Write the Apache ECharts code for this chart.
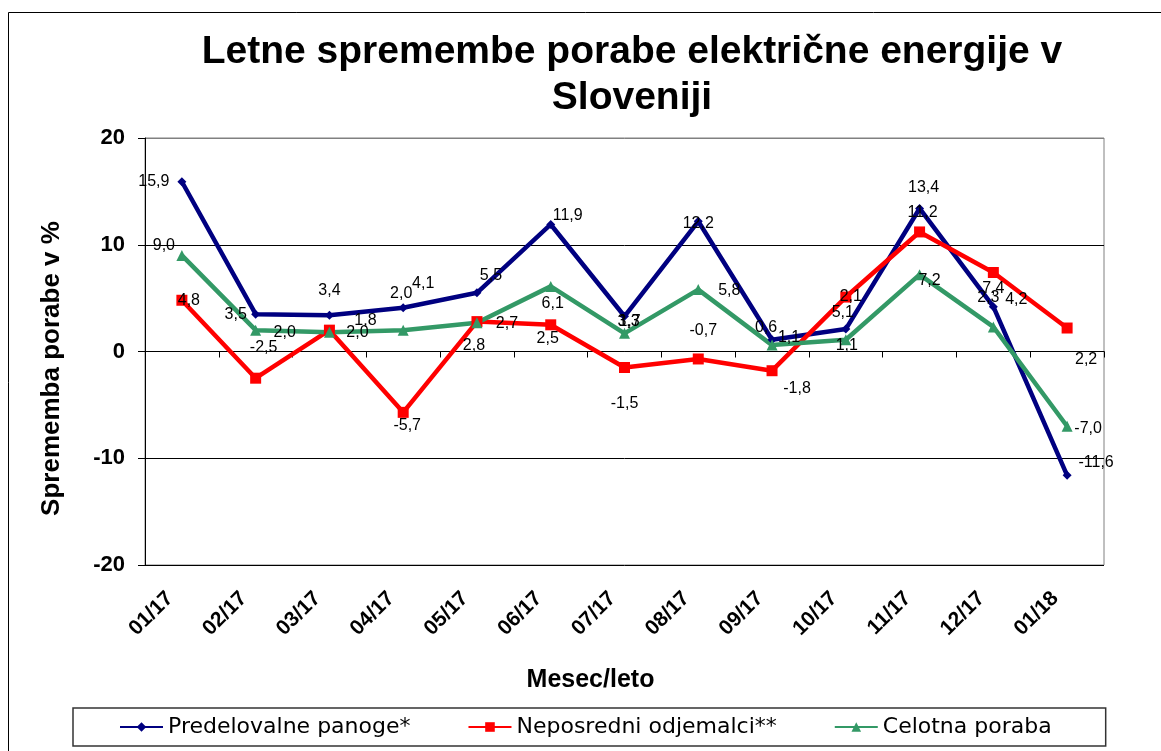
<!DOCTYPE html>
<html><head><meta charset="utf-8">
<script src="https://cdn.jsdelivr.net/npm/echarts@6/dist/echarts.min.js"></script>
<style>html,body{margin:0;padding:0;background:#fff}#c{width:1161px;height:751px}</style>
</head><body><div id="c"></div>
<script>
// ---- data ----
const categories = ['01/17','02/17','03/17','04/17','05/17','06/17','07/17','08/17','09/17','10/17','11/17','12/17','01/18'];
const predelovalne = [15.9, 3.5, 3.4, 4.1, 5.5, 11.9, 3.3, 12.2, 1.1, 2.1, 13.4, 4.2, -11.6];
const neposredni   = [4.8, -2.5, 2.0, -5.7, 2.8, 2.5, -1.5, -0.7, -1.8, 5.1, 11.2, 7.4, 2.2];
const celotna      = [9.0, 2.0, 1.8, 2.0, 2.7, 6.1, 1.7, 5.8, 0.6, 1.1, 7.2, 2.3, -7.0];
const seriesNames  = ['Predelovalne panoge*', 'Neposredni odjemalci**', 'Celotna poraba'];
const titleLines   = ['Letne spremembe porabe električne energije v', 'Sloveniji'];

// ---- label placement (layout only) ----
const blueOff  = [[-28,0],[-20,0],[0,-25],[20,-24],[14,-17],[17,-9],[4,5],[0,2],[17,-2],[5,-32],[4,-21],[23,-7],[29,-13]];
const redOff   = [[7,0],[8,-31],[28,2],[4,13],[-3,24],[-3,14],[0,36],[5,-28],[25,18],[-3,16],[3,-19],[0,16],[19,32]];
const greenOff = [[-18,-10],[29,2],[36,-12],[-2,-37],[30,1],[2,17],[5,-12],[31,1],[-6,-18],[1,6],[10,6],[-5,-29],[21,2]];

const fmt = v => v.toFixed(1).replace('.', ',');
const withLabels = (vals, offs) => vals.map((v, i) => ({ value: v, label: { offset: offs[i] } }));
const labelBase = { show: true, position: 'inside', fontSize: 16, color: '#000',
  fontFamily: 'Liberation Sans, Arial, sans-serif', formatter: p => fmt(p.value) };

const chart = echarts.init(document.getElementById('c'), null, { renderer: 'canvas' });
chart.setOption({
  animation: false,
  backgroundColor: '#fff',
  graphic: [
    { type: 'rect', z: -1, shape: { x: 8.5, y: 12.5, width: 1200, height: 800 },
      style: { fill: 'none', stroke: '#000', lineWidth: 1 } },
    { type: 'text', x: 632, y: 52, style: { text: titleLines[0], textAlign: 'center', textVerticalAlign: 'middle',
      font: 'bold 39px "Liberation Sans", Arial, sans-serif', fill: '#000' } },
    { type: 'text', x: 632, y: 98, style: { text: titleLines[1], textAlign: 'center', textVerticalAlign: 'middle',
      font: 'bold 39px "Liberation Sans", Arial, sans-serif', fill: '#000' } }
  ],
  grid: { left: 145, right: 57, top: 138, bottom: 186, show: true, borderColor: '#808080', borderWidth: 1,
    outerBoundsMode: 'none' },
  legend: {
    left: 73, top: 708, itemWidth: 43, itemHeight: 12, itemGap: 57,
    padding: [8, 54, 8, 46], borderColor: '#333', borderWidth: 1.5,
    textStyle: { fontFamily: 'DejaVu Sans', fontSize: 22, color: '#000' },
    data: seriesNames
  },
  xAxis: {
    type: 'category', data: categories, boundaryGap: true,
    axisLine: { lineStyle: { color: '#000', width: 1 } },
    axisTick: { show: true, length: 6, interval: 0, lineStyle: { color: '#000' } },
    axisLabel: { rotate: 45, interval: 0, fontSize: 21, fontWeight: 'bold', margin: 18, color: '#000',
      padding: [0, 17, 0, 0], fontFamily: 'Liberation Sans, Arial, sans-serif' },
    name: 'Mesec/leto', nameLocation: 'middle', nameGap: 103,
    nameTextStyle: { fontSize: 25, fontWeight: 'bold', color: '#000', padding: [0, 68, 0, 0],
      fontFamily: 'Liberation Sans, Arial, sans-serif' }
  },
  yAxis: {
    type: 'value', min: -20, max: 20, interval: 10,
    axisLine: { show: true, lineStyle: { color: '#000', width: 1 } },
    axisTick: { show: true, length: 7, lineStyle: { color: '#000' } },
    axisLabel: { fontSize: 22, fontWeight: 'bold', color: '#000', margin: 20,
      fontFamily: 'Liberation Sans, Arial, sans-serif' },
    splitLine: { show: true, lineStyle: { color: ['#000', '#000', '#000', '#000', '#808080'], width: 1 } },
    name: 'Sprememba porabe v %', nameLocation: 'middle', nameGap: 80,
    nameTextStyle: { fontSize: 26, fontWeight: 'bold', color: '#000', padding: [0, 34, 0, 0],
      fontFamily: 'Liberation Sans, Arial, sans-serif' }
  },
  series: [
    { name: seriesNames[0], type: 'line', data: withLabels(predelovalne, blueOff),
      symbol: 'diamond', symbolSize: 9, lineStyle: { width: 4.5, color: '#000080' },
      itemStyle: { color: '#000080' }, label: labelBase, emphasis: { disabled: true } },
    { name: seriesNames[1], type: 'line', data: withLabels(neposredni, redOff),
      symbol: 'rect', symbolSize: 11, lineStyle: { width: 4.5, color: '#ff0000' },
      itemStyle: { color: '#ff0000' }, label: labelBase, emphasis: { disabled: true } },
    { name: seriesNames[2], type: 'line', data: withLabels(celotna, greenOff),
      symbol: 'triangle', symbolSize: 11, lineStyle: { width: 4.5, color: '#339966' },
      itemStyle: { color: '#339966' }, label: labelBase, emphasis: { disabled: true } }
  ]
});
</script></body></html>
